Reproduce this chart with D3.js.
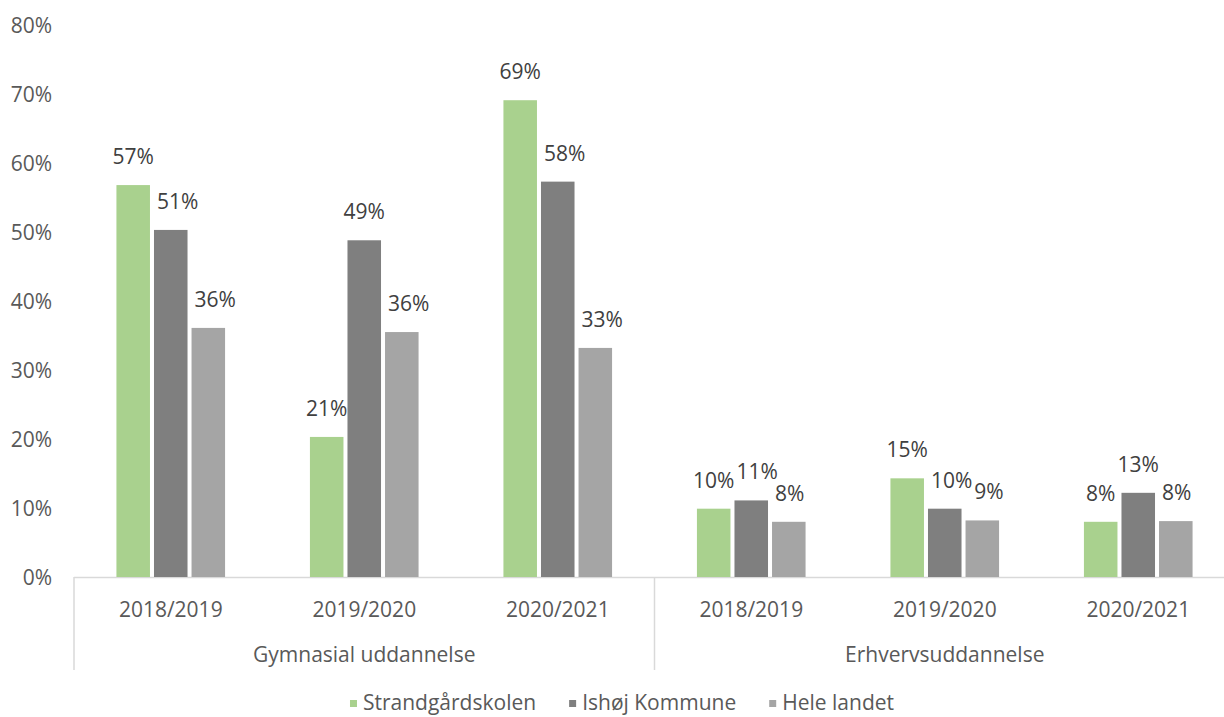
<!DOCTYPE html>
<html>
<head>
<meta charset="utf-8">
<script src="https://cdn.jsdelivr.net/npm/d3@7"></script>
<style>
  html, body { margin: 0; padding: 0; background: #fff; }
  svg { display: block; font-family: "Open Sans", "Noto Sans", sans-serif; }
</style>
</head>
<body>
<svg id="chart" width="1224" height="717"></svg>
<script>
// ---- data ----
const categories = ["2018/2019", "2019/2020", "2020/2021", "2018/2019", "2019/2020", "2020/2021"];
const groups = ["Gymnasial uddannelse", "Erhvervsuddannelse"];
const seriesNames = ["Strandgårdskolen", "Ishøj Kommune", "Hele landet"];
const strandgaardskolen = [0.568, 0.203, 0.691, 0.099, 0.143, 0.080];
const ishojKommune      = [0.503, 0.488, 0.573, 0.111, 0.099, 0.122];
const heleLandet        = [0.361, 0.355, 0.332, 0.080, 0.082, 0.081];
const labelsStrand = ["57%", "21%", "69%", "10%", "15%", "8%"];
const labelsIshoj  = ["51%", "49%", "58%", "11%", "10%", "13%"];
const labelsHele   = ["36%", "36%", "33%", "8%", "9%", "8%"];
const yTicks = [0, 0.1, 0.2, 0.3, 0.4, 0.5, 0.6, 0.7, 0.8];
const colors = ["#a9d18e", "#7f7f7f", "#a5a5a5"];

(function () {
const seriesValues = [strandgaardskolen, ishojKommune, heleLandet];
const seriesLabels = [labelsStrand, labelsIshoj, labelsHele];
const FS = "21px";

// ---- layout ----
const svg = d3.select("#chart");
const plotLeft = 74, plotRight = 1235, plotTop = 25, base = 577;

const x0 = d3.scaleBand().domain(d3.range(categories.length)).range([plotLeft, plotRight]).padding(0);
const x1 = d3.scaleBand().domain(d3.range(seriesNames.length)).range([0, x0.bandwidth()])
  .paddingInner(0.107).paddingOuter(1.13);
const y = d3.scaleLinear().domain([0, 0.8]).range([base, plotTop]);

// y axis
const yAxis = d3.axisLeft(y).tickValues(yTicks).tickFormat(d3.format(".0%")).tickSize(0).tickPadding(0);
const gy = svg.append("g").attr("transform", `translate(52,0)`).call(yAxis);
gy.select(".domain").remove();
gy.selectAll("text").attr("fill", "#595959").style("font-size", FS)
  .attr("dy", "0.36em").attr("font-family", "'Open Sans', 'Noto Sans', sans-serif");

// x axis line
svg.append("line").attr("x1", plotLeft).attr("x2", 1224).attr("y1", base + 0.5).attr("y2", base + 0.5)
  .attr("stroke", "#d9d9d9").attr("stroke-width", 1.5);

// group separators
[0, 3, 6].forEach(i => {
  const xx = i < categories.length ? x0(i) : x0(categories.length - 1) + x0.bandwidth();
  svg.append("line").attr("x1", xx).attr("x2", xx).attr("y1", base).attr("y2", 670)
    .attr("stroke", "#d9d9d9").attr("stroke-width", 1.5);
});

// category labels
const xAxis = d3.axisBottom(x0).tickFormat(i => categories[i]).tickSize(0).tickPadding(0);
const gx = svg.append("g").attr("transform", `translate(0,${base})`).call(xAxis);
gx.select(".domain").remove();
gx.selectAll("text").attr("fill", "#595959").style("font-size", FS)
  .attr("dy", null).attr("y", 40).attr("font-family", "'Open Sans', 'Noto Sans', sans-serif");

// group labels
groups.forEach((g, gi) => {
  const a = x0(gi * 3), b = x0(gi * 3 + 2) + x0.bandwidth();
  svg.append("text").attr("x", (a + b) / 2).attr("y", 662).attr("text-anchor", "middle")
    .attr("fill", "#595959").style("font-size", FS).text(g);
});

// bars
const barData = [];
categories.forEach((c, ci) => {
  seriesNames.forEach((s, si) => {
    barData.push({ ci, si, v: seriesValues[si][ci], label: seriesLabels[si][ci] });
  });
});
svg.append("g").selectAll("rect").data(barData).join("rect")
  .attr("x", d => x0(d.ci) + x1(d.si))
  .attr("y", d => y(d.v))
  .attr("width", x1.bandwidth())
  .attr("height", d => base - y(d.v))
  .attr("fill", d => colors[d.si]);

// value labels
const lbl = svg.append("g").selectAll("text").data(barData).join("text")
  .attr("text-anchor", "middle")
  .attr("fill", "#404040").style("font-size", FS)
  .attr("y", d => y(d.v) - 21)
  .text(d => d.label);

// simple overlap nudging (labels pushed right off a taller neighbour bar / previous label)
const nodes = lbl.nodes();
const info = barData.map((d, i) => {
  const w = nodes[i].getComputedTextLength();
  return { d, w, cx: x0(d.ci) + x1(d.si) + x1.bandwidth() / 2, base: y(d.v) - 21 };
});
info.forEach((o, i) => {
  if (o.d.si === 0) return;
  const prevBar = barData[i - 1];
  const barRight = x0(prevBar.ci) + x1(prevBar.si) + x1.bandwidth();
  const barTop = y(prevBar.v);
  let l = o.cx - o.w / 2;
  if (o.base > barTop && l < barRight + 7) o.cx += barRight + 7 - l;
  const p = info[i - 1];
  l = o.cx - o.w / 2;
  const pr = p.cx + p.w / 2;
  if (Math.abs(p.base - o.base) < 15 && l < pr + 2) o.cx += pr + 2 - l;
});
lbl.attr("x", (d, i) => info[i].cx);

// legend (centred around x = 622)
const leg = svg.append("g");
const items = [];
let lx = 0;
seriesNames.forEach((s, si) => {
  const r = leg.append("rect").attr("x", lx).attr("y", 700).attr("width", 7).attr("height", 7).attr("fill", colors[si]);
  const t = leg.append("text").attr("x", lx + 13).attr("y", 710).attr("fill", "#595959")
    .style("font-size", FS).text(s);
  lx += 13 + t.node().getComputedTextLength() + (si < seriesNames.length - 1 ? 33 : 0);
});
leg.attr("transform", `translate(${622 - lx / 2},0)`);
})();
</script>
</body>
</html>
